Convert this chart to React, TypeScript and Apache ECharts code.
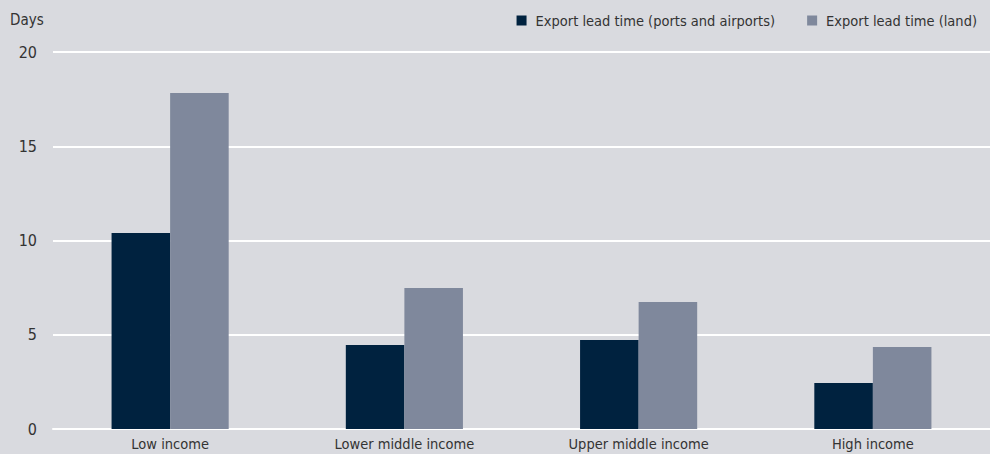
import React, { useEffect, useRef } from "react";
import * as echarts from "echarts";

const categories = ["Low income", "Lower middle income", "Upper middle income", "High income"];
const portsAirports = [10.4, 4.45, 4.72, 2.44];
const land = [17.83, 7.48, 6.74, 4.35];
const seriesNames = ["Export lead time (ports and airports)", "Export lead time (land)"];
const yTicks = [0, 5, 10, 15, 20];

const FONT = "'DejaVu Sans Condensed', 'Roboto Condensed', sans-serif";

export default function App() {
  const ref = useRef<HTMLDivElement>(null);
  useEffect(() => {
    if (!ref.current) return;
    const chart = echarts.init(ref.current, null, { renderer: "svg" });
    chart.setOption({
      animation: false,
      backgroundColor: "#D9DADF",
      textStyle: { fontFamily: FONT },
      grid: { left: 53, right: 0, top: 52, bottom: 25, containLabel: false },
      legend: {
        right: 8,
        top: 8,
        itemWidth: 10,
        itemHeight: 10,
        itemGap: 32,
        icon: "rect",
        textStyle: { fontFamily: FONT, fontSize: 14.5, color: "#333333", padding: [0, 0, 0, 4] },
        data: seriesNames,
      },
      graphic: [
        {
          type: "text",
          left: 10,
          top: 12,
          style: { text: "Days", fontFamily: FONT, fontSize: 15, fill: "#333333" },
        },
      ],
      xAxis: {
        type: "category",
        data: categories,
        axisLine: { show: true, lineStyle: { color: "#FFFFFF", width: 2 } },
        axisTick: { show: false },
        axisLabel: { fontFamily: FONT, fontSize: 14.5, color: "#333333", margin: 7 },
      },
      yAxis: {
        type: "value",
        min: yTicks[0],
        max: yTicks[yTicks.length - 1],
        interval: 5,
        axisLine: { show: false },
        axisTick: { show: false },
        splitLine: { lineStyle: { color: "#FFFFFF", width: 2 } },
        axisLabel: { fontFamily: FONT, fontSize: 16, color: "#333333", margin: 16 },
      },
      series: [
        {
          name: seriesNames[0],
          type: "bar",
          data: portsAirports,
          barWidth: "25%",
          barGap: "0%",
          itemStyle: { color: "#00223F" },
        },
        {
          name: seriesNames[1],
          type: "bar",
          data: land,
          barWidth: "25%",
          barGap: "0%",
          itemStyle: { color: "#7F889C" },
        },
      ],
    });
    return () => chart.dispose();
  }, []);
  return (
    <div
      ref={ref}
      style={{ position: "fixed", left: 0, top: 0, width: 990, height: 454 }}
    />
  );
}
